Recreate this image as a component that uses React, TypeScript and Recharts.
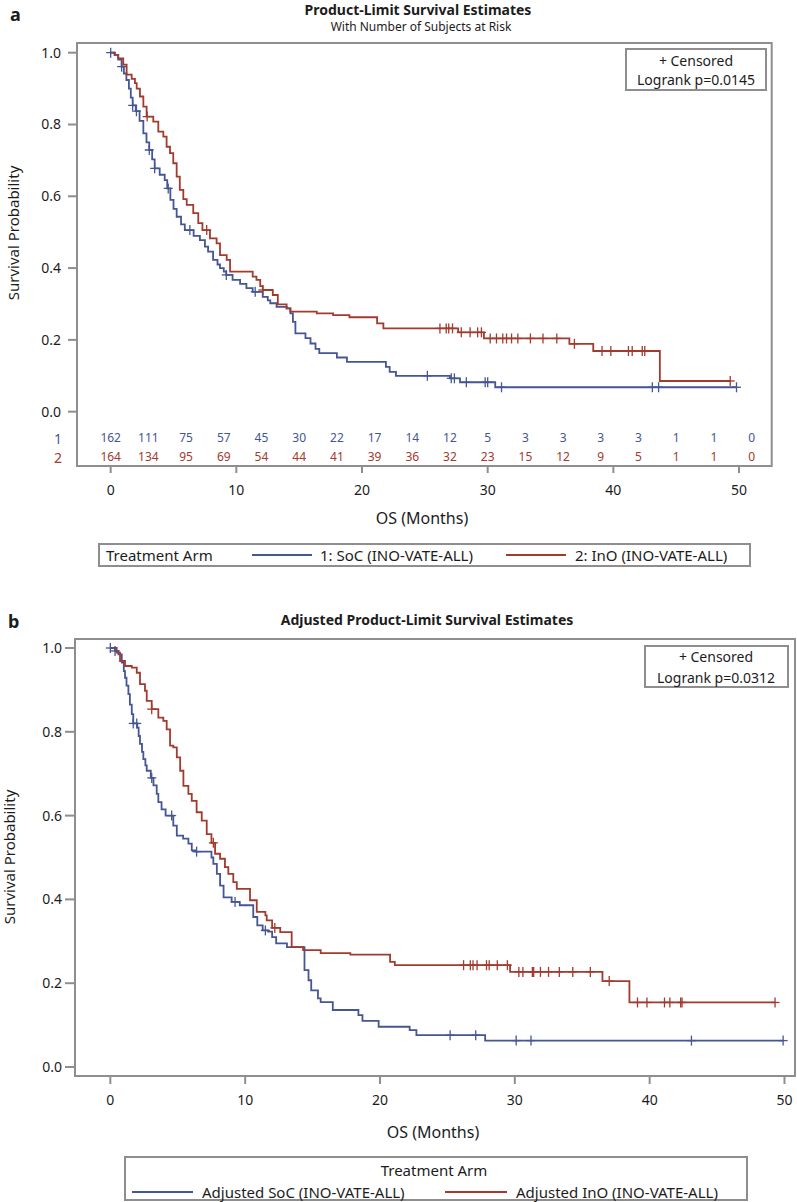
import React from 'react'
import { ComposedChart, Line, Scatter, XAxis, YAxis, ReferenceArea } from 'recharts'

const FONT = '"Noto Sans", "Open Sans", sans-serif'
const BLUE = '#445694'
const RED = '#A23A2E'
const FRAME = '#8E8E8E'
const INK = '#1c1c1c'

// ---- panel a : [months, survival] at each step
const socSteps: [number, number][] = [
  [0, 1.0], [0.3, 0.994], [0.6, 0.981], [0.87, 0.961], [1.05, 0.942], [1.25, 0.924], [1.45, 0.9],
  [1.6, 0.875], [1.75, 0.853], [2.0, 0.837], [2.3, 0.81], [2.6, 0.775], [2.85, 0.75], [3.07, 0.729],
  [3.3, 0.703], [3.5, 0.678], [3.9, 0.66], [4.3, 0.645], [4.5, 0.622], [4.75, 0.59], [5.0, 0.565],
  [5.25, 0.543], [5.6, 0.522], [5.9, 0.506], [6.6, 0.49], [7.1, 0.478], [7.5, 0.46], [7.75, 0.446],
  [8.15, 0.423], [8.5, 0.41], [8.7, 0.4], [9.0, 0.39], [9.2, 0.381], [9.7, 0.367], [10.3, 0.356],
  [10.8, 0.344], [11.3, 0.334], [12.1, 0.32], [12.5, 0.31], [12.7, 0.302], [13.2, 0.292], [14.0, 0.288],
  [14.3, 0.274], [14.5, 0.25], [14.7, 0.218], [15.5, 0.205], [15.9, 0.19], [16.3, 0.175], [16.6, 0.163],
  [18.0, 0.151], [18.8, 0.139], [21.9, 0.125], [22.2, 0.111], [22.7, 0.1], [27.0, 0.093], [27.8, 0.082],
  [30.6, 0.068], [49.8, 0.068],
]
const inoSteps: [number, number][] = [
  [0, 1.0], [0.34, 0.994], [0.6, 0.984], [1.0, 0.967], [1.27, 0.939], [1.67, 0.927], [1.93, 0.915],
  [2.07, 0.9], [2.33, 0.878], [2.6, 0.85], [2.86, 0.822], [3.39, 0.808], [3.79, 0.78], [4.19, 0.766],
  [4.45, 0.738], [4.72, 0.72], [4.98, 0.692], [5.25, 0.655], [5.5, 0.618], [5.78, 0.592], [6.05, 0.576],
  [6.57, 0.553], [6.97, 0.525], [7.3, 0.506], [7.9, 0.483], [8.43, 0.469], [8.7, 0.436], [9.23, 0.423],
  [9.5, 0.39], [11.3, 0.376], [11.6, 0.367], [11.9, 0.35], [12.1, 0.339], [12.9, 0.325], [13.3, 0.299],
  [14.0, 0.288], [14.3, 0.279], [16.4, 0.274], [17.7, 0.269], [19.0, 0.263], [21.2, 0.246], [21.7, 0.232],
  [27.65, 0.221], [29.7, 0.204], [36.5, 0.189], [38.4, 0.169], [43.7, 0.0855], [49.3, 0.0855],
]
const socCensored = [0, 0.87, 1.75, 2.05, 3.07, 3.5, 4.58, 6.3, 9.2, 11.5, 25.2, 27.1, 27.35, 28.3, 29.8, 30.0, 31.1, 43.1, 43.6, 49.8]
const inoCensored = [
  2.9, 7.64, 12.1, 26.2, 26.7, 26.9, 27.2, 27.9, 28.6, 29.2, 29.5, 30.2, 30.7, 31.2, 31.5, 31.9, 32.4,
  33.4, 34.4, 35.5, 36.9, 39.1, 39.8, 41.2, 41.5, 42.3, 42.5, 49.3,
]
const riskTimes = [0, 3, 6, 9, 12, 15, 18, 21, 24, 27, 30, 33, 36, 39, 42, 45, 48, 51]
const socAtRisk = [162, 111, 75, 57, 45, 30, 22, 17, 14, 12, 5, 3, 3, 3, 3, 1, 1, 0]
const inoAtRisk = [164, 134, 95, 69, 54, 44, 41, 39, 36, 32, 23, 15, 12, 9, 5, 1, 1, 0]

// ---- panel b : adjusted estimates
const adjSocSteps: [number, number][] = [
  [0, 1.0], [0.35, 0.993], [0.6, 0.985], [0.85, 0.965], [1.0, 0.945], [1.09, 0.929], [1.2, 0.91],
  [1.34, 0.89], [1.45, 0.865], [1.59, 0.842], [1.7, 0.82], [2.0, 0.81], [2.1, 0.79], [2.2, 0.771],
  [2.35, 0.752], [2.45, 0.735], [2.6, 0.72], [2.7, 0.707], [3.0, 0.69], [3.2, 0.672], [3.44, 0.652],
  [3.56, 0.632], [3.8, 0.615], [4.1, 0.6], [4.67, 0.576], [4.93, 0.552], [5.4, 0.545], [5.79, 0.533],
  [6.04, 0.517], [6.3, 0.514], [7.5, 0.5], [7.64, 0.485], [7.9, 0.461], [8.14, 0.433], [8.4, 0.405],
  [9.0, 0.394], [9.6, 0.386], [10.6, 0.358], [10.9, 0.338], [11.3, 0.326], [11.7, 0.323], [12.0, 0.31],
  [12.3, 0.295], [13.1, 0.286], [14.4, 0.231], [14.7, 0.207], [14.9, 0.183], [15.4, 0.164], [15.6, 0.155],
  [16.5, 0.136], [18.4, 0.124], [18.7, 0.11], [19.9, 0.096], [22.2, 0.088], [22.7, 0.076], [27.8, 0.063],
  [49.9, 0.063],
]
const adjInoSteps: [number, number][] = [
  [0, 1.0], [0.47, 0.989], [0.72, 0.969], [1.09, 0.957], [1.59, 0.953], [1.96, 0.941], [2.2, 0.914],
  [2.57, 0.898], [2.7, 0.874], [3.07, 0.854], [3.56, 0.834], [3.93, 0.826], [4.18, 0.806], [4.43, 0.767],
  [4.67, 0.763], [4.93, 0.739], [5.18, 0.707], [5.42, 0.671], [5.79, 0.652], [6.04, 0.635], [6.4, 0.608],
  [6.78, 0.588], [7.15, 0.556], [7.5, 0.535], [7.77, 0.509], [8.14, 0.497], [8.5, 0.477], [8.75, 0.461],
  [9.12, 0.441], [9.38, 0.425], [10.36, 0.398], [10.86, 0.37], [11.5, 0.362], [11.6, 0.35], [12.0, 0.332],
  [12.6, 0.322], [13.45, 0.286], [14.3, 0.279], [15.6, 0.272], [17.8, 0.268], [20.75, 0.251], [21.1, 0.243],
  [29.65, 0.227], [36.5, 0.205], [38.5, 0.154], [49.3, 0.154],
]
const adjSocCensored = [0, 0.35, 1.7, 1.96, 3.07, 4.55, 6.4, 9.25, 11.5, 25.2, 27.1, 30.1, 31.2, 43.1, 49.9]
const adjInoCensored = [
  3.07, 7.64, 12.2, 26.2, 26.7, 26.9, 27.2, 27.9, 28.1, 28.7, 29.45, 30.3, 30.6, 31.3, 31.4, 31.9, 32.5,
  33.3, 34.3, 35.6, 37.0, 39.1, 39.8, 41.1, 41.5, 42.3, 42.4, 49.3,
]

const xTicks = [0, 10, 20, 30, 40, 50]
const yTicks = [0, 0.2, 0.4, 0.6, 0.8, 1.0]

type Step = [number, number]

const toPoints = (steps: Step[]) => steps.map(([t, s]) => ({ t, s }))

function survivalAt(steps: Step[], t: number) {
  let s = steps[0][1]
  for (const [tt, ss] of steps) if (tt <= t + 1e-9) s = ss
  return s
}

const censorPoints = (steps: Step[], times: number[]) => times.map((t) => ({ t, s: survivalAt(steps, t) }))

const plusShape = (color: string) => (props: any) => {
  const { cx, cy } = props
  if (cx == null || cy == null) return <g />
  return (
    <g stroke={color} strokeWidth={1.3}>
      <line x1={cx - 4.5} x2={cx + 4.5} y1={cy} y2={cy} />
      <line x1={cx} x2={cx} y1={cy - 5} y2={cy + 5} />
    </g>
  )
}

const riskShape = (color: string) => (props: any) => {
  const { cx, cy, payload } = props
  return (
    <text x={cx} y={cy} textAnchor="middle" dominantBaseline="central" fill={color} fontSize={12} fontFamily={FONT}>
      {payload.n}
    </text>
  )
}

interface Curve {
  steps: Step[]
  censored: number[]
  color: string
}

interface PanelProps {
  top: number
  height: number
  plot: { left: number; right: number; top: number; bottom: number }
  xDomain: [number, number]
  yDomain: [number, number]
  curves: Curve[]
  riskRows?: { y: number; counts: number[]; color: string }[]
  yTick: [number, number]
  xTick: [number, number]
}

function KMPanel({ top, height, plot, xDomain, yDomain, curves, riskRows = [], yTick, xTick }: PanelProps) {
  const xAxisH = 40
  return (
    <div style={{ position: 'absolute', left: 0, top, width: 797, height }}>
      <ComposedChart
        width={797}
        height={height}
        margin={{ top: plot.top, right: 797 - plot.right, left: 0, bottom: height - plot.bottom - xAxisH }}
      >
        <XAxis
          type="number"
          dataKey="t"
          domain={xDomain}
          allowDataOverflow
          ticks={xTicks}
          height={xAxisH}
          axisLine={false}
          tickLine={{ stroke: FRAME, strokeWidth: 2 }}
          tickSize={xTick[0]}
          tickMargin={xTick[1]}
          tick={{ fill: INK, fontSize: 14, fontFamily: FONT }}
        />
        <YAxis
          type="number"
          dataKey="s"
          domain={yDomain}
          allowDataOverflow
          ticks={yTicks}
          width={plot.left}
          axisLine={false}
          tickLine={{ stroke: FRAME, strokeWidth: 2 }}
          tickSize={yTick[0]}
          tickMargin={yTick[1]}
          tickFormatter={(v: number) => v.toFixed(1)}
          tick={{ fill: INK, fontSize: 14, fontFamily: FONT }}
        />
        <ReferenceArea
          x1={xDomain[0]}
          x2={xDomain[1]}
          y1={yDomain[0]}
          y2={yDomain[1]}
          fill="none"
          fillOpacity={0}
          stroke={FRAME}
          strokeWidth={2}
          ifOverflow="visible"
        />
        {curves.map((c, i) => (
          <Line
            key={`line-${i}`}
            data={toPoints(c.steps)}
            dataKey="s"
            type="stepAfter"
            stroke={c.color}
            strokeWidth={1.8}
            dot={false}
            activeDot={false}
            isAnimationActive={false}
          />
        ))}
        {curves.map((c, i) => (
          <Scatter
            key={`cens-${i}`}
            data={censorPoints(c.steps, c.censored)}
            dataKey="s"
            shape={plusShape(c.color)}
            isAnimationActive={false}
          />
        ))}
        {riskRows.map((r, i) => (
          <Scatter
            key={`risk-${i}`}
            data={riskTimes.map((t, j) => ({ t, s: r.y, n: r.counts[j] }))}
            dataKey="s"
            shape={riskShape(r.color)}
            isAnimationActive={false}
          />
        ))}
      </ComposedChart>
    </div>
  )
}

export default function App() {
  return (
    <div style={{ position: 'absolute', left: 0, top: 0, width: 797, height: 1202, background: '#fff', fontFamily: FONT }}>
      <KMPanel
        top={0}
        height={600}
        plot={{ left: 77, right: 771.7, top: 43, bottom: 466 }}
        xDomain={[-2.68, 52.6]}
        yDomain={[-0.1513, 1.027]}
        curves={[
          { steps: socSteps, censored: socCensored, color: BLUE },
          { steps: inoSteps, censored: inoCensored, color: RED },
        ]}
        riskRows={[
          { y: -0.0733, counts: socAtRisk, color: BLUE },
          { y: -0.126, counts: inoAtRisk, color: RED },
        ]}
        yTick={[9, 7]}
        xTick={[7, 12]}
      />
      <KMPanel
        top={600}
        height={602}
        plot={{ left: 75, right: 795, top: 39, bottom: 476 }}
        xDomain={[-2.62, 50.78]}
        yDomain={[-0.0215, 1.0215]}
        curves={[
          { steps: adjSocSteps, censored: adjSocCensored, color: BLUE },
          { steps: adjInoSteps, censored: adjInoCensored, color: RED },
        ]}
        yTick={[10, 3]}
        xTick={[8, 11]}
      />
      <svg width={797} height={1202} style={{ position: 'absolute', left: 0, top: 0, pointerEvents: 'none' }} fontFamily={FONT}>
        {/* panel a text */}
        <text x={10} y={21} fontSize={18} fontWeight={700} fill={INK}>a</text>
        <text x={418} y={15} textAnchor="middle" fontSize={14} fontWeight={700} fill={INK}>Product-Limit Survival Estimates</text>
        <text x={421} y={31} textAnchor="middle" fontSize={12} fill={INK}>With Number of Subjects at Risk</text>
        <text transform="translate(13,233) rotate(-90)" textAnchor="middle" dominantBaseline="central" fontSize={15} fill={INK}>Survival Probability</text>
        <text x={422} y={518} textAnchor="middle" dominantBaseline="central" fontSize={16} fill={INK}>OS (Months)</text>
        <text x={58} y={438} textAnchor="middle" dominantBaseline="central" fontSize={14} fill={BLUE}>1</text>
        <text x={58} y={457} textAnchor="middle" dominantBaseline="central" fontSize={14} fill={RED}>2</text>
        <rect x={626} y={49} width={140} height={41} fill="#fff" stroke={FRAME} strokeWidth={2} />
        <text x={696} y={60} textAnchor="middle" dominantBaseline="central" fontSize={14} fill={INK}>+ Censored</text>
        <text x={696} y={79} textAnchor="middle" dominantBaseline="central" fontSize={14} fill={INK}>Logrank p=0.0145</text>
        <rect x={99} y={544} width={651} height={22} fill="#fff" stroke={FRAME} strokeWidth={2} />
        <text x={106} y={555} dominantBaseline="central" fontSize={15} fill={INK}>Treatment Arm</text>
        <line x1={252} x2={312} y1={555} y2={555} stroke={BLUE} strokeWidth={2} />
        <text x={320} y={555} dominantBaseline="central" fontSize={15} fill={INK}>1: SoC (INO-VATE-ALL)</text>
        <line x1={506} x2={566} y1={555} y2={555} stroke={RED} strokeWidth={2} />
        <text x={575} y={555} dominantBaseline="central" fontSize={15} fill={INK}>2: InO (INO-VATE-ALL)</text>

        {/* panel b text */}
        <text x={8} y={628} fontSize={18} fontWeight={700} fill={INK}>b</text>
        <text x={427} y={625} textAnchor="middle" fontSize={14} fontWeight={700} fill={INK}>Adjusted Product-Limit Survival Estimates</text>
        <text transform="translate(9,857) rotate(-90)" textAnchor="middle" dominantBaseline="central" fontSize={15} fill={INK}>Survival Probability</text>
        <text x={433} y={1132} textAnchor="middle" dominantBaseline="central" fontSize={16} fill={INK}>OS (Months)</text>
        <rect x={645} y={646} width={143} height={41} fill="#fff" stroke={FRAME} strokeWidth={2} />
        <text x={716} y={656} textAnchor="middle" dominantBaseline="central" fontSize={14} fill={INK}>+ Censored</text>
        <text x={716} y={677} textAnchor="middle" dominantBaseline="central" fontSize={14} fill={INK}>Logrank p=0.0312</text>
        <rect x={125} y={1157} width={622} height={43} fill="#fff" stroke={FRAME} strokeWidth={2} />
        <text x={434} y={1170} textAnchor="middle" dominantBaseline="central" fontSize={15} fill={INK}>Treatment Arm</text>
        <line x1={132} x2={193} y1={1192} y2={1192} stroke={BLUE} strokeWidth={2} />
        <text x={202} y={1192} dominantBaseline="central" fontSize={15} fill={INK}>Adjusted SoC (INO-VATE-ALL)</text>
        <line x1={445} x2={507} y1={1192} y2={1192} stroke={RED} strokeWidth={2} />
        <text x={516} y={1192} dominantBaseline="central" fontSize={15} fill={INK}>Adjusted InO (INO-VATE-ALL)</text>
      </svg>
    </div>
  )
}
